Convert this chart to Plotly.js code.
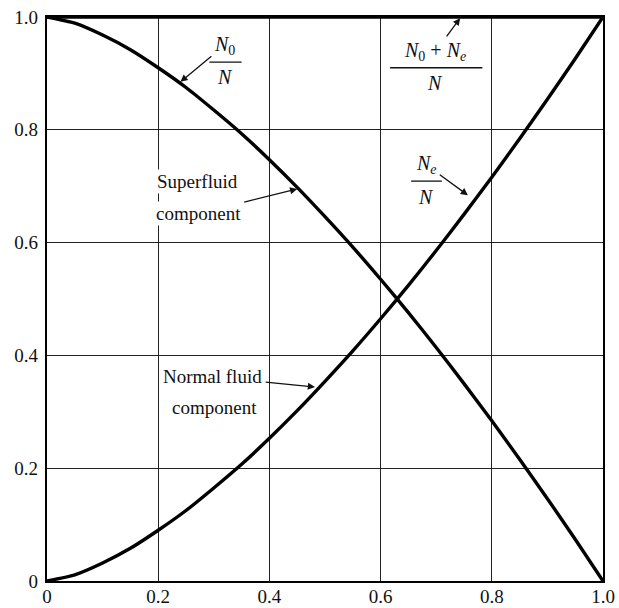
<!DOCTYPE html>
<html>
<head>
<meta charset="utf-8">
<script src="https://cdn.plot.ly/plotly-3.0.1.min.js"></script>
<style>html,body{margin:0;padding:0;background:#fff;}#chart{width:619px;height:608px;}</style>
</head>
<body>
<div id="chart"></div>
<script>
// T / T_lambda
const tRatio = [0,0.05,0.1,0.15,0.2,0.25,0.3,0.35,0.4,0.45,0.5,0.55,0.6,0.65,0.7,0.75,0.8,0.85,0.9,0.95,1.0];
// Normal fluid fraction Ne/N
const normalFrac = [0,0.011,0.032,0.058,0.09,0.125,0.165,0.207,0.253,0.302,0.354,0.408,0.465,0.524,0.586,0.65,0.716,0.784,0.854,0.926,1.0];
// Superfluid fraction N0/N
const superFrac = [1,0.989,0.968,0.942,0.91,0.875,0.835,0.793,0.747,0.698,0.646,0.592,0.535,0.476,0.414,0.35,0.284,0.216,0.146,0.074,0];
// Total (N0+Ne)/N
const totalX = [0,1.0];
const totalFrac = [1,1];
const tickVals = [0,0.2,0.4,0.6,0.8,1.0];
const tickText = ["0","0.2","0.4","0.6","0.8","1.0"];

const serif = "'Times New Roman', 'Liberation Serif', 'DejaVu Serif', serif";
const lineStyle = {color:"#000", width:3.4, shape:"spline", smoothing:0.6};

const traces = [
  {x:tRatio, y:superFrac, mode:"lines", line:lineStyle, hoverinfo:"skip"},
  {x:tRatio, y:normalFrac, mode:"lines", line:lineStyle, hoverinfo:"skip"},
  {x:totalX, y:totalFrac, mode:"lines", line:{color:"#000", width:3.6}, hoverinfo:"skip", cliponaxis:false}
];

function lab(x, y, text, size, tip){
  const a = {x:x, y:y, xref:"x", yref:"y", text:text, showarrow:false,
    font:{family:serif, size:size||18, color:"#111"}, bgcolor:"#fff", borderpad:1};
  if (tip) {
    Object.assign(a, {x:tip[0], y:tip[1], ax:x, ay:y, axref:"x", ayref:"y",
      showarrow:true, arrowhead:2, arrowsize:1.1, arrowwidth:1.3, arrowcolor:"#111",
      standoff:0, startstandoff:2});
  }
  return a;
}

const annotations = [
  // N0/N
  lab(0.320, 0.950, "<i>N</i><sub>0</sub>", 20, [0.240, 0.885]),
  lab(0.320, 0.893, "<i>N</i>", 20),
  // (N0+Ne)/N
  lab(0.698, 0.938, "<i>N</i><sub>0</sub> + <i>N</i><sub><i>e</i></sub>", 20, [0.743, 0.998]),
  lab(0.698, 0.883, "<i>N</i>", 20),
  // Ne/N
  lab(0.682, 0.738, "<i>N</i><sub><i>e</i></sub>", 20, [0.757, 0.684]),
  lab(0.682, 0.680, "<i>N</i>", 20),
  // Superfluid component
  lab(0.270, 0.708, "Superfluid", 19),
  lab(0.272, 0.652, "component", 19, [0.450, 0.695]),
  // Normal fluid component
  lab(0.298, 0.362, "Normal fluid", 19, [0.482, 0.344]),
  lab(0.302, 0.307, "component", 19)
];

const shapes = [
  {type:"line", xref:"x", yref:"y", x0:0.292, x1:0.350, y0:0.920, y1:0.920, line:{color:"#111", width:1.3}},
  {type:"line", xref:"x", yref:"y", x0:0.617, x1:0.783, y0:0.910, y1:0.910, line:{color:"#111", width:1.3}},
  {type:"line", xref:"x", yref:"y", x0:0.655, x1:0.710, y0:0.709, y1:0.709, line:{color:"#111", width:1.3}}
];

const axisCommon = {
  range:[0,1], tickmode:"array", tickvals:tickVals, ticktext:tickText,
  showgrid:true, gridcolor:"#222", gridwidth:1.2, zeroline:false,
  showline:true, linecolor:"#000", linewidth:2.2, mirror:true,
  ticks:"", tickfont:{family:serif, size:19, color:"#111"}, fixedrange:true
};

const layout = {
  width:619, height:608,
  margin:{l:47, r:16, t:17, b:27, pad:0},
  paper_bgcolor:"#fff", plot_bgcolor:"#fff",
  showlegend:false,
  font:{family:serif},
  xaxis:Object.assign({}, axisCommon, {ticklabelstandoff:-3}),
  yaxis:Object.assign({}, axisCommon, {ticklabelstandoff:3}),
  annotations:annotations, shapes:shapes
};

Plotly.newPlot("chart", traces, layout, {staticPlot:true, displayModeBar:false});
</script>
</body>
</html>
